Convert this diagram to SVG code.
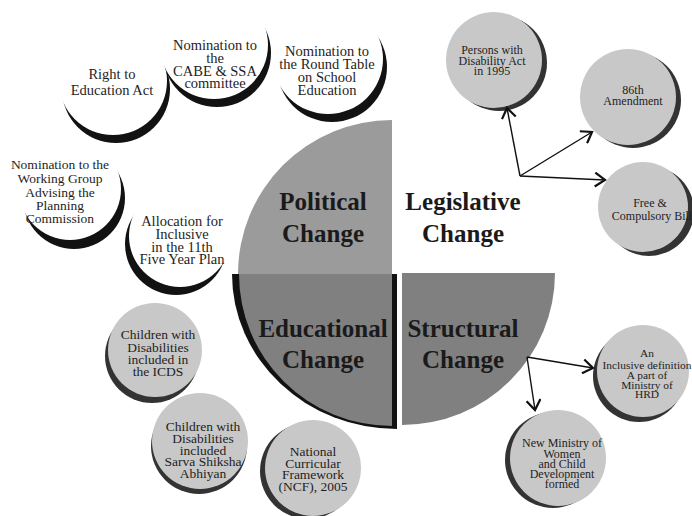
<svg xmlns="http://www.w3.org/2000/svg" width="692" height="516" viewBox="0 0 692 516">
  <style>
    .hub { font-family: "Liberation Serif", "Times New Roman", serif; font-weight: bold; font-size: 25px; fill: #1a1a1a; text-anchor: middle; }
    .lbl { font-family: "Liberation Serif", "Times New Roman", serif; fill: #1e1e1e; text-anchor: middle; }
    .big { font-size: 14.5px; }
    .mid { font-size: 13.5px; }
    .sml { font-size: 12px; }
    .tiny { font-size: 11.4px; }
    .shade { fill: #121212; }
    .paper { fill: #ffffff; }
    .disc { fill: #c8c8c8; }
    .rim { fill: #333333; }
    .link { fill: none; stroke: #111111; stroke-width: 1.4; marker-end: url(#chev); }
  </style>
  <defs>
    <marker id="chev" markerWidth="14" markerHeight="16" refX="12" refY="8" orient="auto" markerUnits="userSpaceOnUse">
      <path d="M2,1 L12,8 L2,15" fill="none" stroke="#111111" stroke-width="2.2"/>
    </marker>
  </defs>

  <rect width="692" height="516" fill="#ffffff"/>

  <!-- central four-part disc -->
  <g id="hub-political">
    <path d="M392,274 L238,274 A154,154 0 0 1 392,120 Z" fill="#9b9b9b"/>
    <text class="hub" x="323" y="210">Political</text>
    <text class="hub" x="323" y="242">Change</text>
  </g>
  <g id="hub-legislative">
    <text class="hub" x="463" y="210">Legislative</text>
    <text class="hub" x="463" y="242">Change</text>
  </g>
  <g id="hub-educational">
    <path d="M397,274 L232,274 A165,155 0 0 0 397,429 Z" fill="#121212"/>
    <path d="M392,274 L239,274 A153,152 0 0 0 392,426 Z" fill="#808080"/>
    <text class="hub" x="323" y="337">Educational</text>
    <text class="hub" x="323" y="368">Change</text>
  </g>
  <g id="hub-structural">
    <path d="M402,273 L555,273 A153,152 0 0 1 402,425 Z" fill="#808080"/>
    <text class="hub" x="463" y="337">Structural</text>
    <text class="hub" x="463" y="368">Change</text>
  </g>

  <!-- political outcomes: white discs with dark crescents -->
  <g id="n-rte">
    <circle class="shade" cx="116" cy="89" r="54"/>
    <circle class="paper" cx="113" cy="81" r="54"/>
    <text class="lbl big" x="112" y="79">Right to</text>
    <text class="lbl big" x="112" y="95">Education Act</text>
  </g>
  <g id="n-cabe">
    <circle class="shade" cx="217" cy="53" r="54"/>
    <circle class="paper" cx="214" cy="45" r="54"/>
    <text class="lbl big" x="215" y="50">Nomination to</text>
    <text class="lbl big" x="215" y="63">the</text>
    <text class="lbl big" x="215" y="76">CABE &amp; SSA</text>
    <text class="lbl big" x="215" y="88">committee</text>
  </g>
  <g id="n-roundtable">
    <circle class="shade" cx="332" cy="67" r="55"/>
    <circle class="paper" cx="328" cy="59" r="55"/>
    <text class="lbl big" x="327" y="56">Nomination to</text>
    <text class="lbl big" x="327" y="69">the Round Table</text>
    <text class="lbl big" x="327" y="82">on School</text>
    <text class="lbl big" x="327" y="95">Education</text>
  </g>
  <g id="n-workgroup">
    <circle class="shade" cx="74" cy="198" r="51"/>
    <circle class="paper" cx="70" cy="189" r="51"/>
    <text class="lbl mid" x="60" y="169">Nomination to the</text>
    <text class="lbl mid" x="60" y="183">Working Group</text>
    <text class="lbl mid" x="60" y="197">Advising the</text>
    <text class="lbl mid" x="60" y="210">Planning</text>
    <text class="lbl mid" x="60" y="223">Commission</text>
  </g>
  <g id="n-allocation">
    <circle class="shade" cx="176" cy="244" r="51"/>
    <circle class="paper" cx="180" cy="236" r="51"/>
    <text class="lbl big" x="182" y="226">Allocation for</text>
    <text class="lbl big" x="182" y="239">Inclusive</text>
    <text class="lbl big" x="182" y="252">in the 11th</text>
    <text class="lbl big" x="182" y="264">Five Year Plan</text>
  </g>

  <!-- educational outcomes -->
  <g id="n-icds">
    <circle class="rim" cx="152" cy="356" r="47"/>
    <circle class="disc" cx="155" cy="350" r="47"/>
    <text class="lbl mid" x="158" y="339">Children with</text>
    <text class="lbl mid" x="158" y="352">Disabilities</text>
    <text class="lbl mid" x="158" y="364">included in</text>
    <text class="lbl mid" x="158" y="376">the ICDS</text>
  </g>
  <g id="n-ssa">
    <circle class="rim" cx="199" cy="446" r="48"/>
    <circle class="disc" cx="200" cy="441" r="48"/>
    <text class="lbl mid" x="203" y="431">Children with</text>
    <text class="lbl mid" x="203" y="443">Disabilities</text>
    <text class="lbl mid" x="203" y="455">included</text>
    <text class="lbl mid" x="203" y="466">Sarva Shiksha</text>
    <text class="lbl mid" x="203" y="478">Abhiyan</text>
  </g>
  <g id="n-ncf">
    <circle class="rim" cx="308" cy="471" r="48"/>
    <circle class="disc" cx="313" cy="468" r="48"/>
    <text class="lbl mid" x="313" y="456">National</text>
    <text class="lbl mid" x="313" y="468">Curricular</text>
    <text class="lbl mid" x="313" y="479">Framework</text>
    <text class="lbl mid" x="313" y="491">(NCF), 2005</text>
  </g>

  <!-- legislative outcomes -->
  <g id="n-pwd">
    <circle class="rim" cx="499" cy="63" r="48"/>
    <circle class="disc" cx="494" cy="60" r="48"/>
    <text class="lbl sml" x="492" y="54">Persons with</text>
    <text class="lbl sml" x="492" y="65">Disability Act</text>
    <text class="lbl sml" x="492" y="75">in 1995</text>
  </g>
  <g id="n-86th">
    <circle class="rim" cx="633" cy="100" r="48"/>
    <circle class="disc" cx="628" cy="97" r="48"/>
    <text class="lbl sml" x="633" y="94">86th</text>
    <text class="lbl sml" x="633" y="105">Amendment</text>
  </g>
  <g id="n-free">
    <circle class="rim" cx="649" cy="211" r="45"/>
    <circle class="disc" cx="643" cy="207" r="45"/>
    <text class="lbl sml" x="650" y="207">Free &amp;</text>
    <text class="lbl sml" x="652" y="220">Compulsory Bill</text>
  </g>

  <!-- structural outcomes -->
  <g id="n-hrd">
    <circle class="rim" cx="639" cy="376" r="46"/>
    <circle class="disc" cx="643" cy="371" r="46"/>
    <text class="lbl tiny" x="647" y="357">An</text>
    <text class="lbl tiny" x="647" y="369">Inclusive definition</text>
    <text class="lbl tiny" x="647" y="379">A part of</text>
    <text class="lbl tiny" x="647" y="389">Ministry of</text>
    <text class="lbl tiny" x="647" y="398">HRD</text>
  </g>
  <g id="n-wcd">
    <circle class="rim" cx="553" cy="460" r="48"/>
    <circle class="disc" cx="558" cy="458" r="48"/>
    <text class="lbl sml" x="562" y="447">New Ministry of</text>
    <text class="lbl sml" x="562" y="458">Women</text>
    <text class="lbl sml" x="562" y="468">and Child</text>
    <text class="lbl sml" x="562" y="478">Development</text>
    <text class="lbl sml" x="562" y="488">formed</text>
  </g>

  <!-- connectors -->
  <g id="connectors">
    <path class="link" d="M520,176 L507,108"/>
    <path class="link" d="M520,176 L592,132"/>
    <path class="link" d="M520,176 L605,180"/>
    <path class="link" d="M527,357 L593,368"/>
    <path class="link" d="M527,357 L535,410"/>
  </g>
</svg>
